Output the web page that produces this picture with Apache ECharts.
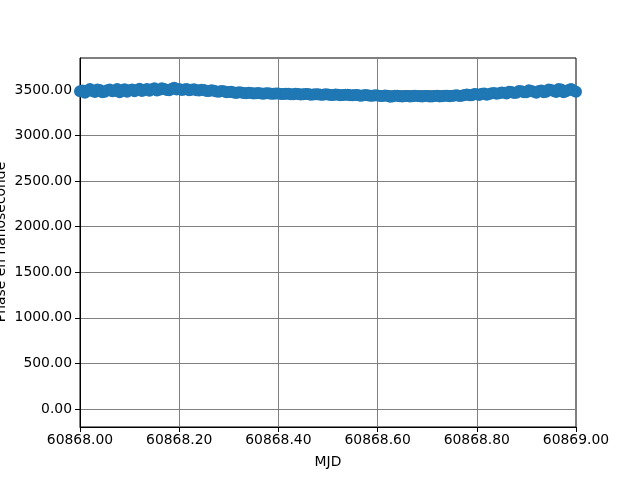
<!DOCTYPE html>
<html>
<head>
<meta charset="utf-8">
<script src="https://cdn.jsdelivr.net/npm/echarts@6/dist/echarts.min.js"></script>
<style>html,body{margin:0;padding:0;background:#fff;}#c{width:640px;height:480px;}</style>
</head>
<body>
<div id="c"></div>
<script>
// MJD values (start + step index)
const mjdStart = 60868.0;
const mjdStep = 0.01;
const phaseNs = [
3487,3470,3510,3478,3500,3482,3505,3492,3475,3508,
3498,3485,3515,3500,3492,3520,3503,3512,3497,3525,
3510,3505,3498,3508,3495,3500,3488,3492,3480,3485,
3478,3472,3476,3468,3470,3462,3466,3460,3463,3458,
3461,3455,3459,3454,3457,3452,3455,3450,3453,3448,
3451,3446,3449,3444,3447,3442,3445,3439,3443,3437,
3440,3435,3438,3430,3436,3428,3434,3431,3435,3429,
3433,3430,3436,3432,3438,3434,3442,3437,3450,3443,
3452,3458,3448,3465,3460,3472,3462,3478,3470,3485,
3476,3490,3470,3495,3482,3500,3478,3505,3485,3510,
3480
];
// samples taken half-way between the ones above
const phaseNsMid = [
3495,3492,3488,3505,3476,3498,3485,3510,3496,3482,
3505,3500,3490,3512,3508,3495,3518,3500,3515,3505,
3500,3512,3502,3496,3502,3490,3496,3484,3488,3476,
3481,3468,3472,3465,3467,3464,3461,3465,3459,3462,
3456,3460,3453,3458,3451,3456,3449,3454,3447,3452,
3445,3450,3443,3448,3441,3446,3438,3444,3436,3441,
3434,3439,3426,3437,3432,3433,3429,3436,3431,3434,
3428,3435,3430,3437,3431,3440,3435,3446,3441,3455,
3446,3462,3455,3468,3465,3470,3480,3466,3488,3474,
3498,3482,3488,3475,3505,3488,3512,3476,3500,3495
];
const yTicks = [0,500,1000,1500,2000,2500,3000,3500];
const xLabel = 'MJD';
const yLabel = 'Phase en nanoseconde';

const pts = phaseNs.map((v,i)=>[+(mjdStart + i*mjdStep).toFixed(4), v])
  .concat(phaseNsMid.map((v,i)=>[+(mjdStart + (i+0.5)*mjdStep).toFixed(4), v]));
const font = 'DejaVu Sans';
const chart = echarts.init(document.getElementById('c'), null, {renderer:'canvas'});
chart.setOption({
  animation:false,
  backgroundColor:'#ffffff',
  grid:{left:80,right:64,top:58,bottom:53,show:true,borderColor:'#000',borderWidth:1,backgroundColor:'transparent',containLabel:false,outerBoundsMode:'none'},
  graphic:[{
    type:'text',x:1,y:242,rotation:Math.PI/2,
    style:{text:yLabel,fontFamily:font,fontSize:13.9,fill:'#000',textAlign:'center',textVerticalAlign:'middle'}
  }],
  xAxis:{
    type:'value',min:60868,max:60869,interval:0.2,
    name:xLabel,nameLocation:'middle',nameGap:28,
    nameTextStyle:{fontFamily:font,fontSize:13.9,color:'#000'},
    axisLine:{show:true,onZero:false,lineStyle:{color:'#000',width:1}},
    axisTick:{show:true,length:5,lineStyle:{color:'#000'}},
    axisLabel:{fontFamily:font,fontSize:13.9,color:'#000',margin:6,formatter:v=>v.toFixed(2),showMinLabel:true,showMaxLabel:true,hideOverlap:false},
    splitLine:{show:true,lineStyle:{color:'#808080',width:1}}
  },
  yAxis:{
    type:'value',min:-197,max:3851,
    axisLine:{show:true,onZero:false,lineStyle:{color:'#000',width:1}},
    axisTick:{show:true,length:5,lineStyle:{color:'#000'},customValues:yTicks},
    axisLabel:{fontFamily:font,fontSize:13.9,color:'#000',margin:8,formatter:v=>v.toFixed(2),customValues:yTicks},
    splitLine:{show:true,lineStyle:{color:'#808080',width:1}}
  },
  series:[{
    type:'scatter',data:pts,symbolSize:12,
    itemStyle:{color:'#1f77b4',opacity:1}
  }]
});
</script>
</body>
</html>
